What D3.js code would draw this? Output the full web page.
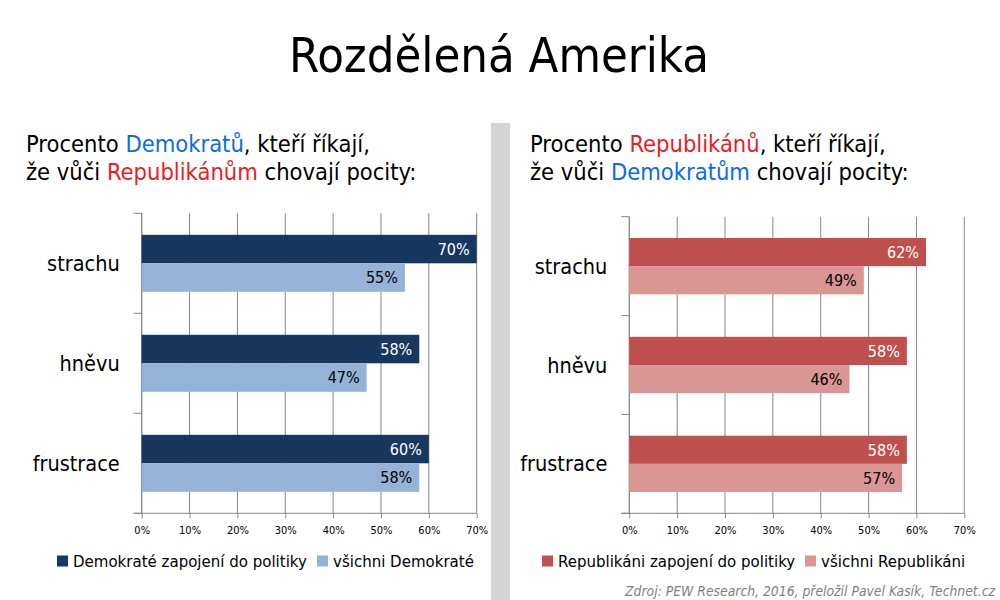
<!DOCTYPE html>
<html>
<head>
<meta charset="utf-8">
<script src="https://cdn.jsdelivr.net/npm/d3@7"></script>
<style>
  body { margin: 0; background: #fff; }
  svg { display: block; font-family: "DejaVu Sans", sans-serif; font-stretch: condensed; }
</style>
</head>
<body>
<svg width="1000" height="600"></svg>
<script>
const categories = ['strachu', 'hněvu', 'frustrace'];
const demEngaged = [70, 58, 60];
const demAll = [55, 47, 58];
const repEngaged = [62, 58, 58];
const repAll = [49, 46, 57];
const tickValues = [0, 10, 20, 30, 40, 50, 60, 70];

const svg = d3.select('svg');

svg.append('text')
  .attr('x', 499).attr('y', 72)
  .attr('text-anchor', 'middle')
  .attr('font-size', 48.5)
  .text('Rozdělená Amerika');

// grey divider between the panels
svg.append('rect')
  .attr('x', 491).attr('y', 123).attr('width', 19).attr('height', 477)
  .attr('fill', '#d4d4d4');

function subtitle(x, parts) {
  parts.forEach((line, i) => {
    const t = svg.append('text').attr('x', x).attr('y', 152 + i * 28).attr('font-size', 23.5);
    line.forEach(([txt, col]) => t.append('tspan').attr('fill', col).text(txt));
  });
}

const BLUE = '#0b6be8', RED = '#ec1c24';
subtitle(26, [
  [['Procento ', '#000'], ['Demokratů', BLUE], [', kteří říkají,', '#000']],
  [['že vůči ', '#000'], ['Republikánům', RED], [' chovají pocity:', '#000']]
]);
subtitle(530, [
  [['Procento ', '#000'], ['Republikánů', RED], [', kteří říkají,', '#000']],
  [['že vůči ', '#000'], ['Demokratům', BLUE], [' chovají pocity:', '#000']]
]);

function panel(opt) {
  const g = svg.append('g');
  const x = d3.scaleLinear().domain([0, 70]).range([opt.x0, opt.x1]);
  const y = d3.scaleBand().domain(categories)
    .range([opt.y0, opt.y1]).paddingInner(0.43).paddingOuter(0.215);
  const sub = d3.scaleBand().domain([0, 1]).range([0, y.bandwidth()]);

  // gridlines
  g.append('g').selectAll('line').data(tickValues).join('line')
    .attr('x1', d => x(d)).attr('x2', d => x(d))
    .attr('y1', opt.y0).attr('y2', opt.y1)
    .attr('stroke', '#868686');

  const xAxis = g.append('g')
    .attr('transform', `translate(0,${opt.y1})`)
    .call(d3.axisBottom(x).tickValues(tickValues).tickSize(5).tickPadding(8)
      .tickFormat(d => d + '%'));
  xAxis.select('.domain').remove();
  xAxis.selectAll('line').attr('stroke', '#868686');
  xAxis.selectAll('text').attr('font-size', 11).attr('fill', '#000')
    .attr('font-family', 'DejaVu Sans');

  g.append('line')
    .attr('x1', opt.x0 - 8).attr('x2', opt.x1)
    .attr('y1', opt.y1).attr('y2', opt.y1)
    .attr('stroke', '#868686');

  // category axis with ticks at band edges
  g.append('line')
    .attr('x1', opt.x0).attr('x2', opt.x0)
    .attr('y1', opt.y0).attr('y2', opt.y1)
    .attr('stroke', '#868686');
  g.append('g').selectAll('line').data(d3.range(categories.length + 1)).join('line')
    .attr('x1', opt.x0 - 8).attr('x2', opt.x0)
    .attr('y1', i => opt.y0 + i * y.step()).attr('y2', i => opt.y0 + i * y.step())
    .attr('stroke', '#868686');

  g.append('g').selectAll('text').data(categories).join('text')
    .attr('x', opt.x0 - 22)
    .attr('y', d => y(d) + y.bandwidth() / 2)
    .attr('dy', '0.35em')
    .attr('text-anchor', 'end')
    .attr('font-size', 21.5)
    .text(d => d);

  const series = [
    { values: opt.engaged, fill: opt.dark, label: '#fff' },
    { values: opt.all, fill: opt.light, label: '#000' }
  ];
  series.forEach((s, si) => {
    const rows = categories.map((c, i) => ({ c, v: s.values[i] }));
    g.append('g').selectAll('rect').data(rows).join('rect')
      .attr('x', x(0))
      .attr('y', d => y(d.c) + sub(si))
      .attr('width', d => x(d.v) - x(0))
      .attr('height', sub.bandwidth())
      .attr('fill', s.fill);
    g.append('g').selectAll('text').data(rows).join('text')
      .attr('x', d => x(d.v) - 7)
      .attr('y', d => y(d.c) + sub(si) + sub.bandwidth() / 2)
      .attr('dy', '0.36em')
      .attr('text-anchor', 'end')
      .attr('font-size', 16)
      .attr('fill', s.label)
      .text(d => d.v + '%');
  });

  // legend
  const lg = g.append('g').selectAll('g').data(opt.legend).join('g')
    .attr('transform', d => `translate(${d.x},561)`);
  lg.append('rect').attr('x', -16).attr('y', -5.5).attr('width', 11).attr('height', 11)
    .attr('fill', (d, i) => i === 0 ? opt.dark : opt.light);
  lg.append('text').attr('dy', '0.35em').attr('font-size', 16.7).text(d => d.text);
}

panel({
  x0: 141.7, x1: 476.7, y0: 213.3, y1: 513.3,
  engaged: demEngaged, all: demAll,
  dark: '#17375e', light: '#95b3d7',
  legend: [{ x: 73, text: 'Demokraté zapojení do politiky' }, { x: 333, text: 'všichni Demokraté' }]
});
panel({
  x0: 629.3, x1: 964.3, y0: 216.7, y1: 513.3,
  engaged: repEngaged, all: repAll,
  dark: '#c0504d', light: '#d99694',
  legend: [{ x: 558, text: 'Republikáni zapojení do politiky' }, { x: 821, text: 'všichni Republikáni' }]
});

svg.append('text')
  .attr('x', 995).attr('y', 596)
  .attr('text-anchor', 'end')
  .attr('font-size', 13.8)
  .attr('font-style', 'italic')
  .attr('fill', '#7f7f7f')
  .text('Zdroj: PEW Research, 2016, přeložil Pavel Kasík, Technet.cz');
</script>
</body>
</html>
